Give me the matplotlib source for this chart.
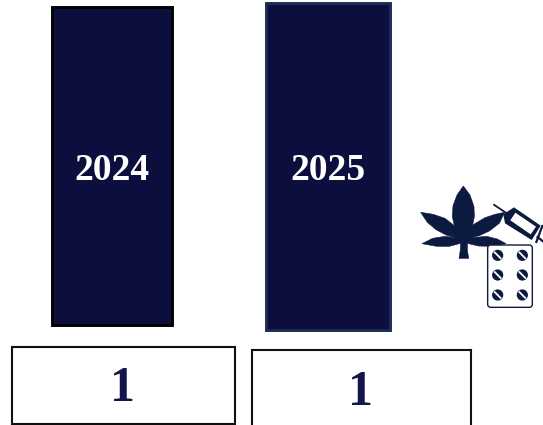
import matplotlib
matplotlib.use("Agg"); import matplotlib.pyplot as plt
from matplotlib.patches import Rectangle, Polygon, Circle, FancyBboxPatch

years=["2024","2025"]
counts=["1","1"]
bar_fill=["#0c0f3d","#0c0f3d"]
bar_edge=["#000000","#1b2c55"]

# layout in image pixels
bar_x=[51.8,265.8]; bar_w=[120.4,124.4]; bar_top=[6.9,3.4]; bar_h=[317.6,327]
year_y=[170,170]
box_x=[12,251.7]; box_w=[222.6,219.6]; box_top=[346.6,350]; box_h=[77,90]
count_y=[389,393]
NAVY="#0d1a40"

def z(pts):  # icon points, measured in a 3x crop at (410,175)
    return [(410+a/3,175+b/3) for a,b in pts]

fig=plt.figure(figsize=(5.43,4.25),dpi=100)
ax=fig.add_axes([0,0,1,1]); ax.set_xlim(0,543); ax.set_ylim(425,0); ax.axis("off")
serif=["Liberation Serif","DejaVu Serif"]

for i,y in enumerate(years):
    ax.add_patch(Rectangle((bar_x[i],bar_top[i]),bar_w[i],bar_h[i],fc=bar_fill[i],ec=bar_edge[i],lw=2.1))
    t=ax.text(bar_x[i]+bar_w[i]/2,year_y[i],y,color="white",fontsize=27,fontweight="bold",family=serif,ha="center",va="center")
    ax.add_patch(Rectangle((box_x[i],box_top[i]),box_w[i],box_h[i],fc="white",ec="#111111",lw=1.5))
    ax.text(box_x[i]+box_w[i]/2-.5,count_y[i],counts[i],color="#12164a",fontsize=36,fontweight="bold",family=serif,ha="center",va="center")

# leaf
leaf=[(160,33),(180,60),(192,95),(193,125),(188,150),(225,128),(255,118),(284,112),(268,145),(238,168),(208,182),(185,188),
      (230,184),(262,192),(288,206),(242,214),(205,213),(172,205),(172,225),(176,250),(147,250),(151,225),(152,205),
      (118,214),(80,214),(36,206),(68,190),(105,184),(136,188),(108,180),(78,164),(52,142),(32,112),(70,118),(105,130),(133,152),
      (127,125),(129,92),(141,60)]
ax.add_patch(Polygon(z(leaf),fc=NAVY,ec=NAVY,lw=0.4))

# syringe
ax.plot(*zip(*z([(250,88),(292,116)])),color=NAVY,lw=1.3,solid_capstyle="butt")
ax.add_patch(Polygon(z([(280,118),(312,97),(392,152),(365,195),(285,145)]),fc=NAVY,ec="none"))
ax.add_patch(Polygon(z([(316,113),(378,155),(362,178),(301,136)]),fc="white",ec="none"))
ax.plot(*zip(*z([(398,150),(378,204)])),color=NAVY,lw=1.6,solid_capstyle="butt")
ax.plot(*zip(*z([(380,184),(400,200)])),color=NAVY,lw=1.6,solid_capstyle="butt")

# blister pack
x0,y0=z([(233,210)])[0]; x1,y1=z([(367,397)])[0]
ax.add_patch(FancyBboxPatch((x0+3,y0+3),x1-x0-6,y1-y0-6,boxstyle="round,pad=3",fc="white",ec=NAVY,lw=1.0,zorder=3))
for px in (263,337):
    for py in (241,300,360):
        (cx,cy),=z([(px,py)])
        ax.add_patch(Circle((cx,cy),5.6,fc=NAVY,ec="none",zorder=4))
        ax.plot([cx-3.6,cx+3.6],[cy-3.6,cy+3.6],color="white",lw=1.3,zorder=5,solid_capstyle="butt")

fig.savefig("out.png",dpi=100)
